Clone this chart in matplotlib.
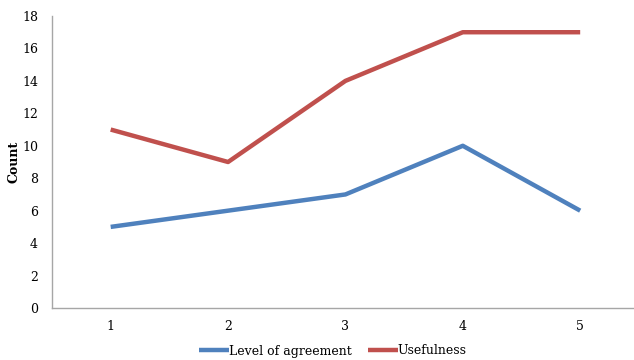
import matplotlib
matplotlib.use("Agg")
import matplotlib.pyplot as plt

categories = ["1", "2", "3", "4", "5"]
agreement = [5, 6, 7, 10, 6]
usefulness = [11, 9, 14, 17, 17]

plt.rcParams['font.family'] = ['DejaVu Serif']
fig = plt.figure(figsize=(6.34, 3.6), dpi=100)
ax = fig.add_axes([52/634, 52/360, 581/634, 292/360])
x = list(range(1, len(categories) + 1))
ax.plot(x, agreement, color="#4F81BD", lw=3.2, label="Level of agreement", solid_capstyle="butt")
ax.plot(x, usefulness, color="#C0504D", lw=3.2, label="Usefulness", solid_capstyle="butt")
ax.set_xlim(0.5, 5.45)
ax.set_ylim(0, 18)
ax.set_yticks(range(0, 19, 2))
ax.set_xticks(x)
ax.set_xticklabels(categories)
ax.tick_params(length=0, labelsize=9, colors="black")
ax.tick_params(axis="y", pad=10)
ax.tick_params(axis="x", pad=9)
for s in ["top", "right"]:
    ax.spines[s].set_visible(False)
for s in ["left", "bottom"]:
    ax.spines[s].set_color("#A6A6A6")
    ax.spines[s].set_linewidth(1)
ax.set_ylabel("Count", fontsize=9, fontweight="bold", labelpad=1)
fig.legend(loc="center", bbox_to_anchor=(0.525, 1 - 351/360), ncol=2, frameon=False,
           fontsize=9, handlelength=2.4, handletextpad=0.0, columnspacing=1.3)
fig.savefig("out.png", dpi=100)
